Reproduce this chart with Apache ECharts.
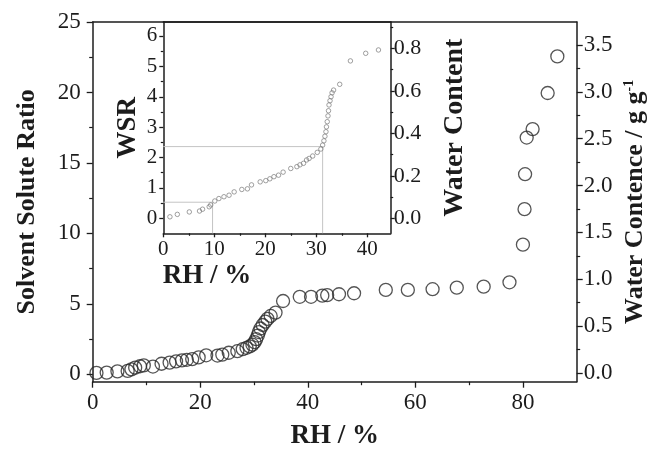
<!DOCTYPE html>
<html><head><meta charset="utf-8">
<script src="https://cdn.jsdelivr.net/npm/echarts@6/dist/echarts.min.js"></script>
<style>html,body{margin:0;padding:0;background:#fff}#c{width:658px;height:450px}</style>
</head><body><div id="c"></div>
<script>
// ---- data ----
const mainRH  = [0.7,2.6,4.6,6.5,7.2,7.9,8.8,9.5,11.2,12.8,14.3,15.5,16.6,17.5,18.5,19.7,21.1,23.2,24.1,25.3,26.9,27.9,28.6,29.2,29.7,30.1,30.4,30.7,30.9,31.2,31.6,32.1,32.5,33.1,34.0,35.4,38.5,40.6,42.7,43.6,45.8,48.6,54.5,58.6,63.2,67.7,72.7,77.5,80.0,80.3,80.4,80.7,81.8,84.6,86.4];
const mainWSR = [0.10,0.12,0.21,0.24,0.35,0.47,0.57,0.63,0.55,0.75,0.83,0.92,0.99,1.03,1.08,1.20,1.35,1.33,1.40,1.53,1.64,1.78,1.88,1.98,2.10,2.28,2.50,2.75,3.00,3.25,3.50,3.74,3.93,4.14,4.38,5.20,5.50,5.50,5.58,5.62,5.68,5.75,5.99,5.99,6.04,6.15,6.22,6.53,9.20,11.72,14.20,16.80,17.40,19.96,22.56];
const insetRH  = [1.3,2.75,5.1,7.1,7.7,9.0,9.3,10.1,10.9,11.9,12.9,13.9,15.4,16.5,17.3,19.0,20.1,20.9,21.7,22.6,23.5,25.0,26.2,26.8,27.5,28.1,28.6,29.3,30.2,30.9,31.25,31.5,31.7,31.9,32.0,32.15,32.3,32.4,32.5,32.7,32.9,33.1,33.4,34.6,36.7,39.7,42.2];
const insetWSR = [0.05,0.13,0.21,0.24,0.30,0.38,0.44,0.57,0.65,0.71,0.76,0.87,0.95,0.97,1.10,1.20,1.24,1.30,1.37,1.42,1.52,1.64,1.70,1.76,1.81,1.92,1.97,2.05,2.17,2.28,2.41,2.55,2.70,2.85,3.01,3.18,3.37,3.54,3.73,3.87,4.00,4.13,4.22,4.41,5.18,5.43,5.54];
const guideRH  = [9.66, 31.25];
const guideWSR = [0.53, 2.36];

// tick labels
const mainXTicks   = [0,20,40,60,80];
const mainXMinor   = [10,30,50,70];
const mainYTicks   = [0,5,10,15,20,25];
const mainYMinor   = [2.5,7.5,12.5,17.5,22.5];
const mainY2Ticks  = [0,0.5,1,1.5,2,2.5,3,3.5];
const mainY2Minor  = [0.25,0.75,1.25,1.75,2.25,2.75,3.25];
const insetXTicks  = [0,10,20,30,40];
const insetXMinor  = [5,15,25,35];
const insetYTicks  = [0,1,2,3,4,5,6];
const insetYMinor  = [0.5,1.5,2.5,3.5,4.5,5.5];
const insetY2Ticks = [0,0.2,0.4,0.6,0.8];
const insetY2Minor = [0.1,0.3,0.5,0.7,0.9];

// ---- styling ----
const FONT = 'Liberation Serif';
const INK = '#1c1c1c';
const R = {
  mainX:[0,90], mainY:[-0.525,25], mainY2:[-0.093,3.745],
  insX:[0,44.6], insY:[-0.493,6.46], insY2:[-0.0706,0.924]
};

function majorAxis(o){
  return {
    type:'value', gridIndex:o.grid, position:o.pos, min:o.range[0], max:o.range[1],
    splitLine:{show:false}, nameMoveOverlap:false,
    axisLine:{show:true,onZero:false,lineStyle:{color:INK,width:1.5}},
    axisTick:{show:true,inside:false,length:o.tick,customValues:o.ticks,lineStyle:{color:INK,width:1.3}},
    axisLabel:{show:true,customValues:o.ticks,margin:o.margin,color:INK,fontFamily:FONT,fontSize:o.fs,
      formatter:o.fmt||(v=>String(v))},
    name:o.name||'', nameLocation:'middle', nameGap:o.gap||0, nameRotate:o.rot,
    nameTextStyle:o.nts||{}
  };
}
function minorAxis(o){
  return {
    type:'value', gridIndex:o.grid, position:o.pos, min:o.range[0], max:o.range[1],
    splitLine:{show:false},
    axisLine:{show:false,onZero:false},
    axisTick:{show:true,inside:false,length:o.tick,customValues:o.ticks,lineStyle:{color:INK,width:1.2}},
    axisLabel:{show:false}
  };
}
function lineAxis(o){
  return {
    type:'value', gridIndex:o.grid, position:o.pos, min:o.range[0], max:o.range[1],
    splitLine:{show:false},
    axisLine:{show:true,onZero:false,lineStyle:{color:INK,width:1.5}},
    axisTick:{show:false}, axisLabel:{show:false}
  };
}
const titleStyle = fs => ({fontFamily:FONT,fontWeight:'bold',fontSize:fs,color:INK});

const xAxis = [
  majorAxis({grid:0,pos:'bottom',range:R.mainX,ticks:mainXTicks,tick:6,margin:10,fs:23,
    name:'RH / %',gap:41,nts:titleStyle(27)}),
  minorAxis({grid:0,pos:'bottom',range:R.mainX,ticks:mainXMinor,tick:3.5}),
  lineAxis({grid:0,pos:'top',range:R.mainX}),
  majorAxis({grid:1,pos:'bottom',range:R.insX,ticks:insetXTicks,tick:4,margin:6,fs:21,
    name:'RH / %',gap:29,nts:Object.assign(titleStyle(27),{padding:[0,140,0,0]})}),
  minorAxis({grid:1,pos:'bottom',range:R.insX,ticks:insetXMinor,tick:2.5}),
  lineAxis({grid:1,pos:'top',range:R.insX})
];
const yAxis = [
  majorAxis({grid:0,pos:'left',range:R.mainY,ticks:mainYTicks,tick:6,margin:12,fs:23,
    name:'Solvent Solute Ratio',gap:52,rot:90,nts:titleStyle(26)}),
  minorAxis({grid:0,pos:'left',range:R.mainY,ticks:mainYMinor,tick:3.5}),
  majorAxis({grid:0,pos:'right',range:R.mainY2,ticks:mainY2Ticks,tick:6,margin:7,fs:23,
    fmt:v=>v.toFixed(1),
    name:'{t|Water Contence / g g}{s|-1}',gap:46,rot:90,
    nts:{color:INK,rich:{
      t:{fontFamily:FONT,fontWeight:'bold',fontSize:26,color:INK},
      s:{fontFamily:FONT,fontWeight:'bold',fontSize:14,color:INK,verticalAlign:'top'}
    }}}),
  minorAxis({grid:0,pos:'right',range:R.mainY2,ticks:mainY2Minor,tick:3.5}),
  majorAxis({grid:1,pos:'left',range:R.insY,ticks:insetYTicks,tick:4,margin:6,fs:21,
    name:'WSR',gap:22,rot:90,nts:titleStyle(27)}),
  minorAxis({grid:1,pos:'left',range:R.insY,ticks:insetYMinor,tick:2.5}),
  majorAxis({grid:1,pos:'right',range:R.insY2,ticks:insetY2Ticks,tick:4,margin:3,fs:22,
    fmt:v=>v.toFixed(1),name:'Water Content',gap:50,rot:90,nts:titleStyle(28)}),
  minorAxis({grid:1,pos:'right',range:R.insY2,ticks:insetY2Minor,tick:2.5})
];

const mainData  = mainRH.map((x,i)=>[x,mainWSR[i]]);
const insetData = insetRH.map((x,i)=>[x,insetWSR[i]]);
const guideSeries = guideRH.map((gx,i)=>({
  type:'line', xAxisIndex:3, yAxisIndex:4, symbol:'none', silent:true, z:1,
  lineStyle:{color:'#c4c4c4',width:1},
  data:[[R.insX[0],guideWSR[i]],[gx,guideWSR[i]],[gx,R.insY[0]]]
}));

const chart = echarts.init(document.getElementById('c'),null,{renderer:'canvas'});
chart.setOption({
  animation:false,
  backgroundColor:'#fff',
  grid:[
    {left:92.7,top:22,width:484,height:359.7,containLabel:false,outerBoundsMode:'none'},
    {left:163.3,top:22,width:227.4,height:211.3,containLabel:false,outerBoundsMode:'none'}
  ],
  xAxis, yAxis,
  series:[
    ...guideSeries,
    {type:'scatter', xAxisIndex:3, yAxisIndex:4, data:insetData, symbol:'circle', symbolSize:4.5, z:3,
      itemStyle:{color:'rgba(0,0,0,0)',borderColor:'#7a7a7a',borderWidth:0.9}},
    {type:'scatter', xAxisIndex:0, yAxisIndex:0, data:mainData, symbol:'circle', symbolSize:13, z:3,
      itemStyle:{color:'rgba(0,0,0,0)',borderColor:'#2a2a2a',borderWidth:1.3}}
  ]
});
</script></body></html>
